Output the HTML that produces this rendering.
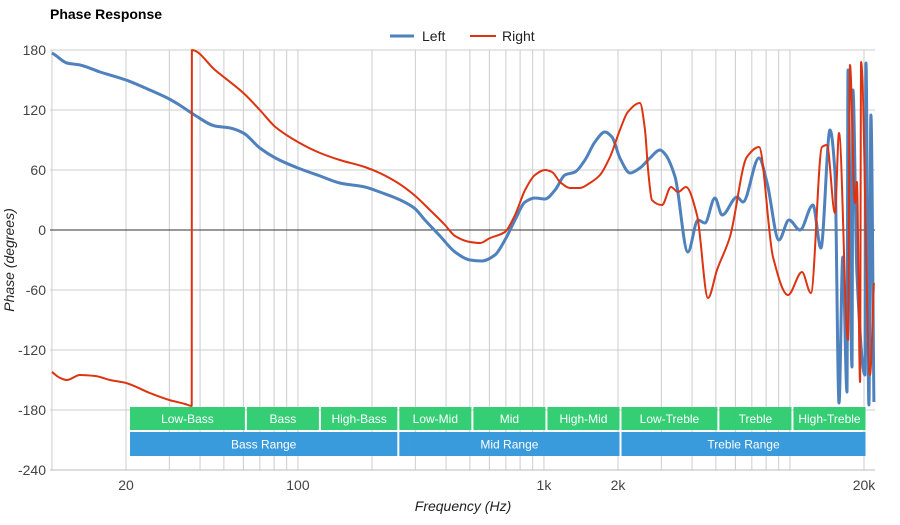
<!DOCTYPE html>
<html><head><meta charset="utf-8"><style>
body{margin:0;background:#fff;width:900px;height:520px;overflow:hidden;font-family:"Liberation Sans",sans-serif}
svg text{font-family:"Liberation Sans",sans-serif}
</style></head><body>
<svg id="chart" width="900" height="520" xmlns="http://www.w3.org/2000/svg">
<text x="50" y="19" font-size="14" font-weight="bold" fill="#000">Phase Response</text>
<g id="grid"></g>
<g id="series"></g>
<g id="bands"></g>
<g id="axes"></g>
<g>
<g><line x1="390" y1="36" x2="414" y2="36" stroke="#4f81bd" stroke-width="3"/><text x="422" y="41" font-size="14" fill="#222">Left</text></g>
<g><line x1="470" y1="36" x2="496" y2="36" stroke="#dd3311" stroke-width="2"/><text x="502" y="41" font-size="14" fill="#222">Right</text></g>
</g>
<text transform="translate(14,260) rotate(-90)" text-anchor="middle" font-size="14" font-style="italic" fill="#222">Phase (degrees)</text>
<text x="463" y="511" text-anchor="middle" font-size="14" font-style="italic" fill="#222">Frequency (Hz)</text>
</svg>
<script>
const leftFreq=[10,10.3,11.5,13,15.7,20,25,30,33,38,46,53,60,70,81,100,123,148,187,215,255,297,328,378,435,500,560,632,694,763,838,919,1010,1110,1217,1337,1468,1611,1770,1890,2036,2239,2455,2698,2965,3105,3412,3846,4227,4510,4955,5297,6095,6442,7482,8072,9018,9910,10990,12400,13360,14550,15240,15830,16400,17060,17220,17870,18030,18720,20180,20370,20940,21340,21950];
const leftVals=[177,175,167,165,158,150,140,131,125,115,104,102,97,82,72,62,54,47,43,38,31,22,10,-6,-22,-30,-31,-25,-10,10,28,32,31,40,55,58,70,88,98,93,72,57,62,72,80,76,53,-22,10,7,32,15,33,28,72,47,-10,10,0,25,-18,100,57,-173,-27,-162,160,-137,140,-43,-145,167,-175,115,-172];
const rightFreq=[10,10.8,11.5,13,15,17.2,20,25,30,34.8,37,37.05,46,60,70,81,100,123,148,187,215,255,297,344,396,435,500,550,604,694,763,838,919,1010,1078,1163,1277,1400,1538,1690,1855,2036,2193,2455,2576,2650,2748,3020,3284,3508,3778,4190,4645,5050,5700,6685,7482,8530,9820,11190,12170,13490,14130,15240,15830,17220,17540,18370,18720,19280,19460,21140,21950];
const rightVals=[-142,-148,-150,-145,-146,-150,-153,-163,-170,-174,-176,180,160,137,120,103,88,77,70,63,57,47,35,20,5,-6,-12,-13,-8,-2,15,40,55,60,58,48,42,42,47,55,73,100,118,127,100,60,30,25,43,38,43,15,-68,-40,-7,73,83,-27,-65,-42,-63,83,85,17,97,-110,165,27,48,-152,168,-145,-53];
const yTicks=[180,120,60,0,-60,-120,-180,-240];
const xTickVals=[20,100,1000,2000,20000];
const xTickLabels=["20","100","1k","2k","20k"];
const bandNames=["Low-Bass","Bass","High-Bass","Low-Mid","Mid","High-Mid","Low-Treble","Treble","High-Treble"];
const bandEdges=[20,60,120,250,500,1000,2000,5000,10000,20000];
const rangeNames=["Bass Range","Mid Range","Treble Range"];
const rangeEdges=[20,250,2000,20000];

const NS="http://www.w3.org/2000/svg";
const X0=50,X1=875,Y0=50,Y1=470;
const xs=f=>126+246*Math.log10(f/20);
const ys=v=>230-v;
function mk(tag,attrs,parent){const e=document.createElementNS(NS,tag);for(const k in attrs)e.setAttribute(k,attrs[k]);parent.appendChild(e);return e;}
const grid=document.getElementById('grid'),axes=document.getElementById('axes'),series=document.getElementById('series'),bands=document.getElementById('bands');
for(let d=10;d<=10000;d*=10){for(let m=1;m<=9;m++){const f=d*m;if(f>20000)break;const x=xs(f);if(x<X0-1)continue;
const l=mk('line',{x1:x,y1:Y0,x2:x,y2:Y1,stroke:'#cccccc','stroke-width':1},grid);

}}
{const l=mk('line',{x1:xs(20000),y1:Y0,x2:xs(20000),y2:Y1,stroke:'#cccccc'},grid);

}
yTicks.forEach(v=>{const y=ys(v);
const l=mk('line',{x1:X0,y1:y,x2:X1,y2:y,stroke:v===0?'#333':'#cccccc','stroke-width':1},grid);


const t=mk('text',{x:46,y:y+5,'text-anchor':'end','font-size':14,fill:'#444'},axes);t.textContent=v;

});
xTickVals.forEach((f,i)=>{const t=mk('text',{x:xs(f),y:490,'text-anchor':'middle','font-size':14,fill:'#444'},axes);t.textContent=xTickLabels[i];

});
function monoPath(P){const n=P.length;const dx=[],m=[],t=new Array(n);
for(let i=0;i<n-1;i++){dx[i]=P[i+1][0]-P[i][0];m[i]=(P[i+1][1]-P[i][1])/(dx[i]||1e-6);}
t[0]=m[0];t[n-1]=m[n-2];
for(let i=1;i<n-1;i++){if(m[i-1]*m[i]<=0)t[i]=0;else{const w1=2*dx[i]+dx[i-1],w2=dx[i]+2*dx[i-1];t[i]=(w1+w2)/(w1/m[i-1]+w2/m[i]);}}
let d='M'+P[0][0].toFixed(1)+','+P[0][1].toFixed(1);
for(let i=0;i<n-1;i++){const h=dx[i]/3;d+='C'+(P[i][0]+h).toFixed(1)+','+(P[i][1]+t[i]*h).toFixed(1)+' '+(P[i+1][0]-h).toFixed(1)+','+(P[i+1][1]-t[i+1]*h).toFixed(1)+' '+P[i+1][0].toFixed(1)+','+P[i+1][1].toFixed(1);}
return d;}
function path(fr,vals,color,w,name){const P=fr.map((f,i)=>[xs(f),ys(vals[i])]);
const p=mk('path',{d:monoPath(P),fill:'none',stroke:color,'stroke-width':w,'stroke-linejoin':'round'},series);

}
path(leftFreq,leftVals,'#4f81bd',3,'left-line');
path(rightFreq,rightVals,'#dd3311',2,'right-line');
function band(edges,names,y,h,color,nm){for(let i=0;i<names.length;i++){const a=xs(edges[i])+(i?3.5:4),b=Math.min(xs(edges[i+1])+1.5,866);
const r=mk('rect',{x:a,y:y,width:b-a,height:h,fill:color,opacity:0.97},bands);


const t=mk('text',{x:(a+b)/2,y:y+h/2+4.5,'text-anchor':'middle','font-size':12,fill:'#fff'},bands);t.textContent=names[i];

}}
band(bandEdges,bandNames,407,23,'#2ecc71','band');
band(rangeEdges,rangeNames,432,24,'#3498db','range');
{const l=mk('line',{x1:X0,y1:Y1,x2:X1,y2:Y1,stroke:'#bbb'},axes);

}
</script>
</body></html>
